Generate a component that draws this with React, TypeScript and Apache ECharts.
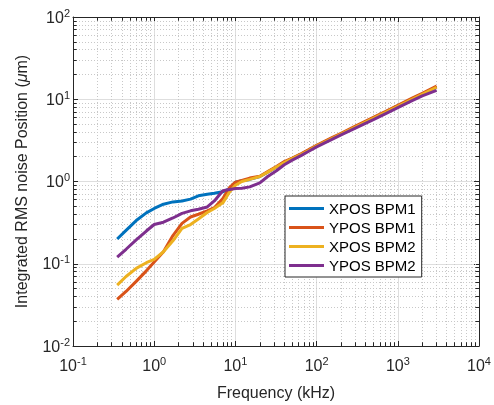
import React, { useEffect, useRef } from "react";
import * as echarts from "echarts";

const freq = [0.35, 0.45, 0.6, 0.8, 1, 1.3, 1.7, 2.2, 2.8, 3.5, 4.5, 5.5, 7, 8.5, 10, 12, 15, 20, 25, 32, 40, 50, 65, 80, 100, 150, 200, 300, 500, 700, 1000, 1500, 2000, 3000];
const xposBpm1 = [0.20, 0.255, 0.335, 0.415, 0.47, 0.53, 0.565, 0.58, 0.61, 0.67, 0.70, 0.72, 0.75, 0.82, 0.98, 1.02, 1.06, 1.15, 1.30, 1.50, 1.72, 1.90, 2.15, 2.40, 2.72, 3.31, 3.80, 4.62, 5.92, 6.97, 8.30, 10.1, 11.6, 14.1];
const yposBpm1 = [0.037, 0.046, 0.061, 0.082, 0.105, 0.14, 0.22, 0.31, 0.37, 0.40, 0.44, 0.48, 0.62, 0.85, 0.98, 1.03, 1.10, 1.16, 1.32, 1.52, 1.75, 1.93, 2.18, 2.44, 2.76, 3.36, 3.86, 4.70, 6.02, 7.08, 8.45, 10.3, 11.8, 14.5];
const xposBpm2 = [0.055, 0.070, 0.088, 0.103, 0.113, 0.14, 0.19, 0.27, 0.30, 0.35, 0.42, 0.47, 0.55, 0.75, 0.90, 1.00, 1.06, 1.15, 1.30, 1.50, 1.70, 1.90, 2.14, 2.38, 2.70, 3.28, 3.76, 4.58, 5.86, 6.90, 8.22, 10.0, 11.5, 14.0];
const yposBpm2 = [0.12, 0.15, 0.195, 0.25, 0.30, 0.32, 0.36, 0.41, 0.44, 0.46, 0.49, 0.58, 0.77, 0.80, 0.82, 0.83, 0.86, 0.96, 1.15, 1.35, 1.60, 1.82, 2.08, 2.33, 2.64, 3.20, 3.68, 4.45, 5.65, 6.65, 7.90, 9.6, 11.0, 12.8];

const seriesNames = ["XPOS BPM1", "YPOS BPM1", "XPOS BPM2", "YPOS BPM2"];
const seriesColors = ["#0072BD", "#D95319", "#EDB120", "#7E2F8E"];
const seriesValues = [xposBpm1, yposBpm1, xposBpm2, yposBpm2];

const xDecades = [0.1, 1, 10, 100, 1000];
const yDecades = [0.01, 0.1, 1, 10];
const minorMult = [2, 3, 4, 5, 6, 7, 8, 9];

const X_MIN = 0.1, X_MAX = 10000, Y_MIN = 0.01, Y_MAX = 100;
const FONT = "'Liberation Sans', Arial, Helvetica, sans-serif";

export default function App() {
  const ref = useRef<HTMLDivElement>(null);
  useEffect(() => {
    if (!ref.current) return;
    const chart = echarts.init(ref.current, undefined, { renderer: "svg" });

    const xMinor: number[] = [];
    xDecades.forEach((d) => minorMult.forEach((m) => xMinor.push(+(d * m).toPrecision(6))));
    const yMinor: number[] = [];
    yDecades.forEach((d) => minorMult.forEach((m) => yMinor.push(+(d * m).toPrecision(6))));

    const tf = 1.11;
    const gridLines: any[] = [];
    xMinor.forEach((v) => gridLines.push([{ coord: [v, Y_MIN] }, { coord: [v, Y_MAX] }]));
    yMinor.forEach((v) => gridLines.push([{ coord: [X_MIN, v] }, { coord: [X_MAX, v] }]));
    const tickLines: any[] = [];
    xMinor.forEach((v) => {
      tickLines.push([{ coord: [v, Y_MIN] }, { coord: [v, Y_MIN * tf] }]);
      tickLines.push([{ coord: [v, Y_MAX] }, { coord: [v, Y_MAX / tf] }]);
    });
    yMinor.forEach((v) => {
      tickLines.push([{ coord: [X_MIN, v] }, { coord: [X_MIN * tf, v] }]);
      tickLines.push([{ coord: [X_MAX, v] }, { coord: [X_MAX / tf, v] }]);
    });

    const labelFmt = (val: number) => {
      const e = Math.round(Math.log10(val));
      return `{b|10}{s|${e}}`;
    };
    const rich = {
      b: { fontSize: 16, fontFamily: FONT, color: "#262626" },
      s: { fontSize: 11, fontFamily: FONT, color: "#262626", verticalAlign: "bottom", padding: [0, 0, 9, 0] },
    };

    const axisLine = { show: true, lineStyle: { color: "#262626", width: 1 } };
    const majorTick = { show: true, inside: true, length: 5, lineStyle: { color: "#262626" } };

    const option: any = {
      animation: false,
      grid: { left: 73, top: 17, right: 12, bottom: 58, containLabel: false },
      legend: {
        data: seriesNames,
        orient: "vertical",
        left: 285,
        top: 196,
        icon: "rect",
        itemWidth: 35,
        itemHeight: 3,
        itemGap: 4,
        padding: [5, 6, 4, 4],
        backgroundColor: "#ffffff",
        borderColor: "#262626",
        borderWidth: 1,
        z: 10,
        textStyle: { fontSize: 15, fontFamily: FONT, color: "#000" },
      },
      xAxis: [
        {
          type: "log",
          logBase: 10,
          min: X_MIN,
          max: X_MAX,
          splitNumber: 5,
          name: "Frequency (kHz)",
          nameLocation: "middle",
          nameGap: 38,
          nameTextStyle: { fontSize: 16, fontFamily: FONT, color: "#262626" },
          axisLine,
          axisTick: majorTick,
          axisLabel: { formatter: labelFmt, rich, margin: 9 },
          splitLine: { show: true, lineStyle: { color: "#dedede", width: 1 } },
        },
        {
          type: "log",
          logBase: 10,
          min: X_MIN,
          max: X_MAX,
          splitNumber: 5,
          position: "top",
          axisLine,
          axisTick: majorTick,
          axisLabel: { show: false },
          splitLine: { show: false },
        },
      ],
      yAxis: [
        {
          type: "log",
          logBase: 10,
          min: Y_MIN,
          max: Y_MAX,
          splitNumber: 4,
          name: "Integrated RMS noise Position ({i|μ}m)",
          nameLocation: "middle",
          nameGap: 44,
          nameTextStyle: {
            fontSize: 16,
            fontFamily: FONT,
            color: "#262626",
            rich: { i: { fontSize: 16, fontFamily: FONT, fontStyle: "italic", color: "#262626" } },
          },
          axisLine,
          axisTick: majorTick,
          axisLabel: { formatter: labelFmt, rich, margin: 3 },
          splitLine: { show: true, lineStyle: { color: "#dedede", width: 1 } },
        },
        {
          type: "log",
          logBase: 10,
          min: Y_MIN,
          max: Y_MAX,
          splitNumber: 4,
          position: "right",
          axisLine,
          axisTick: majorTick,
          axisLabel: { show: false },
          splitLine: { show: false },
        },
      ],
      series: [
        {
          type: "line",
          name: "_grid",
          data: [],
          silent: true,
          z: 1,
          markLine: {
            silent: true,
            z: 1,
            symbol: ["none", "none"],
            label: { show: false },
            animation: false,
            lineStyle: { color: "#c8c8c8", width: 1, type: [1, 2] },
            emphasis: { disabled: true },
            data: gridLines,
          },
        },
        {
          type: "line",
          name: "_ticks",
          data: [],
          silent: true,
          z: 1,
          markLine: {
            silent: true,
            z: 1,
            symbol: ["none", "none"],
            label: { show: false },
            animation: false,
            lineStyle: { color: "#262626", width: 1, type: "solid" },
            emphasis: { disabled: true },
            data: tickLines,
          },
        },
        ...seriesNames.map((name, i) => ({
          type: "line",
          name,
          data: freq.map((f, j) => [f, seriesValues[i][j]]),
          showSymbol: false,
          symbol: "none",
          z: 3,
          lineStyle: { color: seriesColors[i], width: 3 },
          itemStyle: { color: seriesColors[i] },
        })),
      ],
    };
    chart.setOption(option);
    return () => chart.dispose();
  }, []);
  return <div ref={ref} style={{ position: "fixed", left: 0, top: 0, width: 494, height: 405 }} />;
}
